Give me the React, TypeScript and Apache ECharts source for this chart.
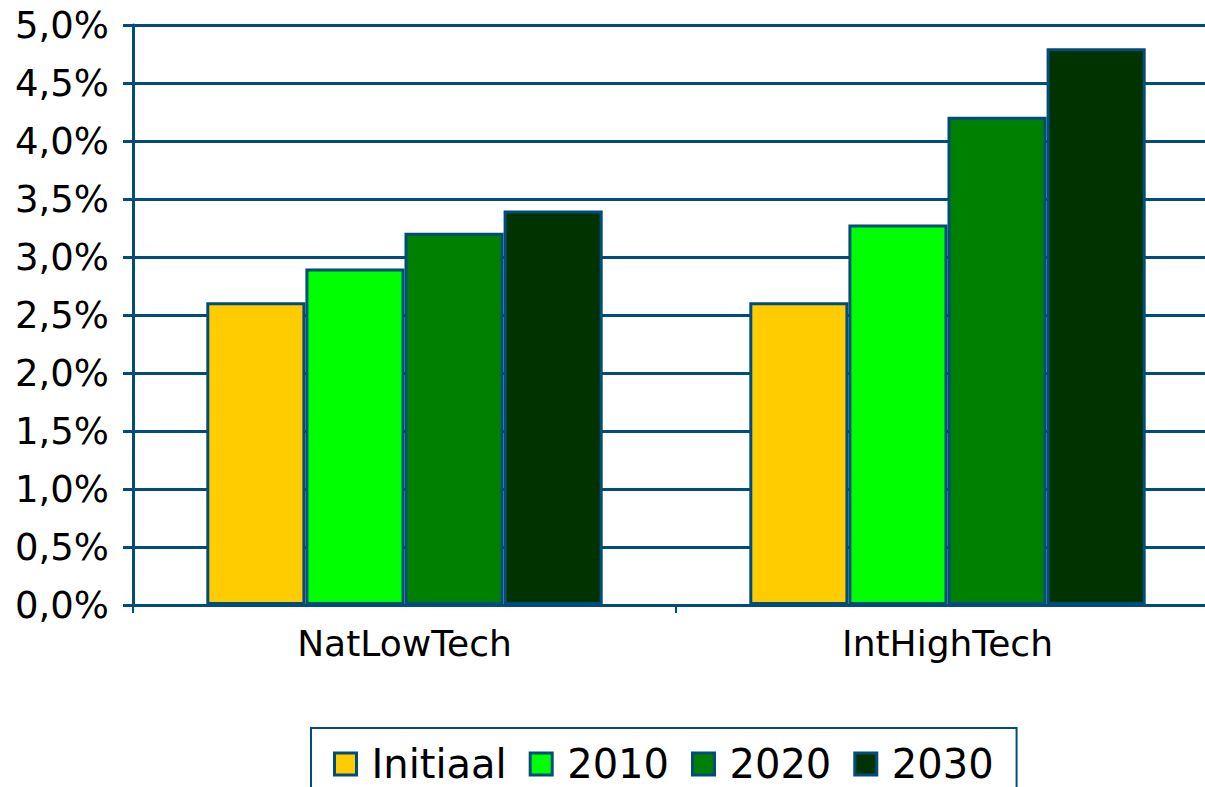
import React, { useEffect, useRef } from "react";
import * as echarts from "echarts";

const categories = ["NatLowTech", "IntHighTech"];
const seriesNames = ["Initiaal", "2010", "2020", "2030"];
const initiaal = [2.61, 2.61];
const y2010 = [2.9, 3.28];
const y2020 = [3.21, 4.21];
const y2030 = [3.4, 4.8];
const colors = ["#FFCC00", "#00FF00", "#008000", "#003300"];

const BLUE = "#004d7d";
const FONT = "DejaVu Sans, Verdana, sans-serif";

export default function App() {
  const ref = useRef<HTMLDivElement>(null);
  useEffect(() => {
    document.body.style.margin = "0";
    document.body.style.overflow = "hidden";
    const chart = echarts.init(ref.current!, null, { renderer: "svg" });
    const values = [initiaal, y2010, y2020, y2030];
    chart.setOption({
      animation: false,
      grid: { left: 133, top: 25, bottom: 182, width: 1086, containLabel: false },
      legend: {
        left: 311,
        top: 728,
        orient: "horizontal",
        padding: [16, 23, 40, 22],
        borderColor: BLUE,
        borderWidth: 2,
        itemWidth: 22,
        itemHeight: 22,
        itemGap: 22,
        icon: "rect",
        itemStyle: { borderColor: BLUE, borderWidth: 3 },
        textStyle: { fontFamily: FONT, fontSize: 40, color: "#000", padding: [0, 0, 0, 10] },
        data: seriesNames,
      },
      xAxis: {
        type: "category",
        data: categories,
        axisLine: { lineStyle: { color: BLUE, width: 3 } },
        axisTick: { show: true, length: 8, lineStyle: { color: BLUE, width: 2 } },
        axisLabel: { fontFamily: FONT, fontSize: 36, color: "#000", margin: 20 },
      },
      yAxis: {
        type: "value",
        min: 0,
        max: 5,
        interval: 0.5,
        axisLine: { show: true, lineStyle: { color: BLUE, width: 3 } },
        axisTick: { show: true, length: 10, lineStyle: { color: BLUE, width: 3 } },
        splitLine: { lineStyle: { color: BLUE, width: 3 } },
        axisLabel: {
          fontFamily: FONT,
          fontSize: 37,
          color: "#000",
          margin: 24,
          formatter: (v: number) => v.toFixed(1).replace(".", ",") + "%",
        },
      },
      series: seriesNames.map((name, i) => ({
        name,
        type: "bar",
        data: values[i],
        barGap: "0%",
        barCategoryGap: "27%",
        itemStyle: { color: colors[i], borderColor: BLUE, borderWidth: 3 },
      })),
    });
    return () => chart.dispose();
  }, []);
  return <div ref={ref} style={{ width: 1225, height: 787 }} />;
}
